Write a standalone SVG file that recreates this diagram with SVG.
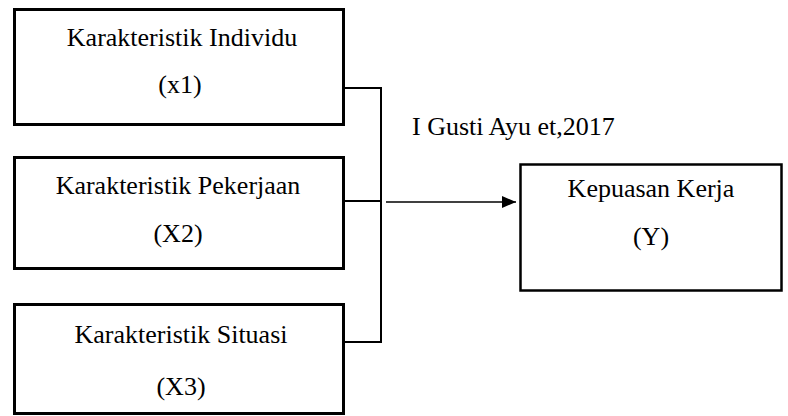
<svg xmlns="http://www.w3.org/2000/svg" width="788" height="416" viewBox="0 0 788 416">
<defs>
<style>
.box{fill:#fff;stroke:#000;stroke-width:3}
.box2{fill:#fff;stroke:#000;stroke-width:2.5}
.t{font-family:"Liberation Serif","Times New Roman",serif;font-size:26px;fill:#000;text-anchor:middle}
.c{fill:none;stroke:#000;stroke-width:2}
.a{fill:none;stroke:#000;stroke-width:1.5}
</style>
<marker id="ah" viewBox="0 0 14 12" refX="14" refY="6" markerWidth="14" markerHeight="12" markerUnits="userSpaceOnUse" orient="auto">
<path d="M0,0 L14,6 L0,12 Z" fill="#000"/>
</marker>
</defs>
<g id="connectors">
<path class="c" d="M345,88 H381 V342 H345"/>
<path class="c" d="M345,201 H381"/>
<path class="a" d="M386,202 H516" marker-end="url(#ah)"/>
</g>
<g id="x1">
<rect class="box" x="14.5" y="9.5" width="329" height="115"/>
<text class="t" x="182" y="46">Karakteristik Individu</text>
<text class="t" x="180" y="93">(x1)</text>
</g>
<g id="x2">
<rect class="box" x="14.5" y="157.5" width="329" height="111"/>
<text class="t" x="178" y="194">Karakteristik Pekerjaan</text>
<text class="t" x="178" y="242">(X2)</text>
</g>
<g id="x3">
<rect class="box" x="14.5" y="304.5" width="329" height="109"/>
<text class="t" x="181" y="343">Karakteristik Situasi</text>
<text class="t" x="181" y="395">(X3)</text>
</g>
<g id="y">
<rect class="box2" x="520.5" y="164.5" width="261" height="126"/>
<text class="t" x="651" y="197">Kepuasan Kerja</text>
<text class="t" x="651" y="245">(Y)</text>
</g>
<g id="label">
<text class="t" x="412" y="135" style="text-anchor:start">I Gusti Ayu et,2017</text>
</g>
</svg>
